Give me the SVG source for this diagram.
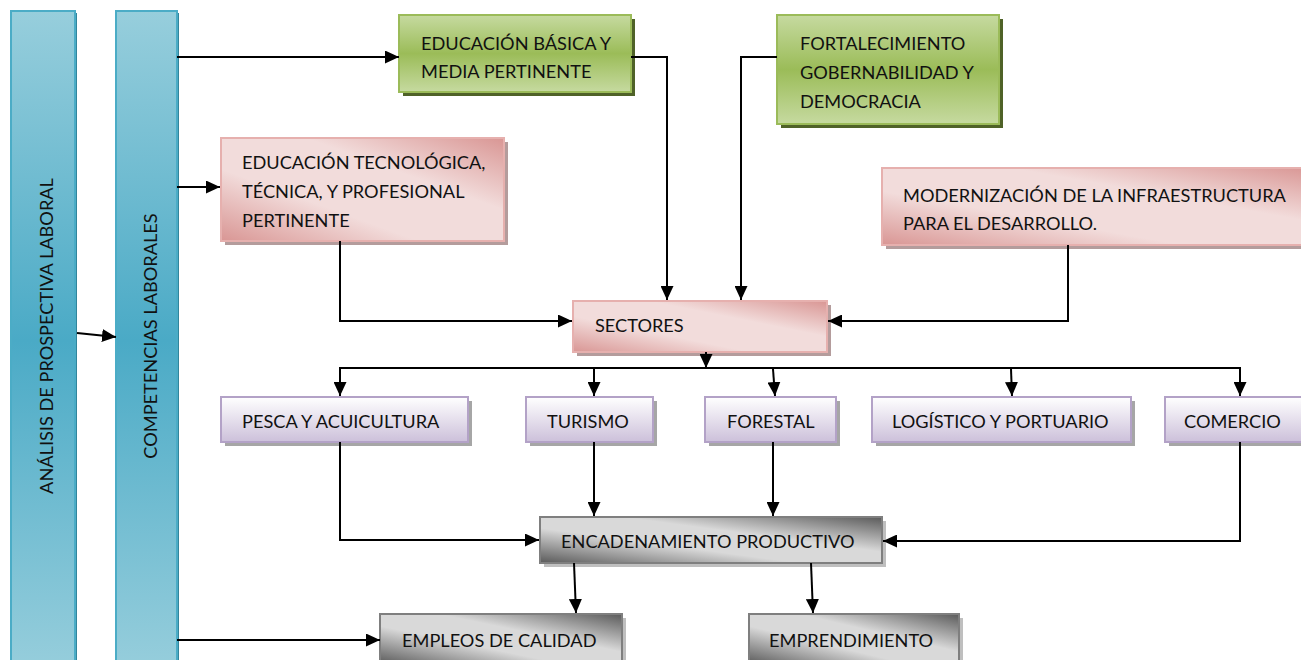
<svg xmlns="http://www.w3.org/2000/svg" width="1301" height="660" viewBox="0 0 1301 660">
<style>
text{font-family:Lato,"Open Sans","Liberation Sans",sans-serif;font-size:18.2px;fill:#111;}
.conn{fill:none;stroke:#000;stroke-width:2;}
.blue{fill:url(#gBlue);stroke:#4bacc6;stroke-width:2;}
.green{fill:url(#gGreen);stroke:#9bbb59;stroke-width:2;}
.pink{fill:url(#gPink);stroke:#e6b0ae;stroke-width:2;}
.lav{fill:url(#gLav);stroke:#b3a2c7;stroke-width:2;}
.gray{fill:url(#gGray);stroke:#7f7f7f;stroke-width:2;}
.shGreen{fill:#4f6228;}
.shPink{fill:#b49c9c;}
.shLav{fill:#a6a6a6;}
.shGray{fill:#bfbfbf;}
.shBlue{fill:#31859c;}
</style>
<defs>
<linearGradient id="gBlue" x1="0" y1="0" x2="0" y2="1">
<stop offset="0" stop-color="#97cedc"/><stop offset="0.5" stop-color="#4aaac6"/><stop offset="1" stop-color="#97cedc"/>
</linearGradient>
<linearGradient id="gGreen" x1="0" y1="0" x2="0" y2="1">
<stop offset="0" stop-color="#c6daa0"/><stop offset="0.5" stop-color="#9bbc58"/><stop offset="1" stop-color="#c6daa0"/>
</linearGradient>
<linearGradient id="gPink" x1="0" y1="1" x2="1" y2="0">
<stop offset="0" stop-color="#d99694"/><stop offset="0.35" stop-color="#f2dcdb"/><stop offset="0.65" stop-color="#f2dcdb"/><stop offset="1" stop-color="#d99694"/>
</linearGradient>
<linearGradient id="gLav" x1="0" y1="0" x2="0" y2="1">
<stop offset="0" stop-color="#ffffff"/><stop offset="1" stop-color="#ccc0da"/>
</linearGradient>
<linearGradient id="gGray" x1="0" y1="1" x2="1" y2="0">
<stop offset="0" stop-color="#5a5a5a"/><stop offset="0.38" stop-color="#d9d9d9"/><stop offset="0.62" stop-color="#d9d9d9"/><stop offset="1" stop-color="#5a5a5a"/>
</linearGradient>
<marker id="arr" viewBox="0 0 14 13" refX="14" refY="6.5" markerWidth="14" markerHeight="13" markerUnits="userSpaceOnUse" orient="auto">
<path d="M0,0 L14,6.5 L0,13 z" fill="#000"/>
</marker>
</defs>

<g id="analisis">
<rect class="shBlue" x="13" y="13" width="64" height="660"/>
<rect class="blue" x="11" y="11" width="64" height="660"/>
<text transform="translate(53,336) rotate(-90)" text-anchor="middle">ANÁLISIS DE PROSPECTIVA LABORAL</text>
</g>
<g id="competencias">
<rect class="shBlue" x="118" y="13" width="61" height="660"/>
<rect class="blue" x="116" y="11" width="61" height="660"/>
<text transform="translate(157,336) rotate(-90)" text-anchor="middle">COMPETENCIAS LABORALES</text>
</g>

<g id="edu-basica">
<rect class="shGreen" x="403" y="19" width="232" height="77"/>
<rect class="green" x="399" y="15" width="232" height="77"/>
<text x="421" y="50">EDUCACIÓN BÁSICA Y</text>
<text x="421" y="78">MEDIA PERTINENTE</text>
</g>
<g id="fortalecimiento">
<rect class="shGreen" x="781" y="19" width="222" height="109"/>
<rect class="green" x="777" y="15" width="222" height="109"/>
<text x="800" y="50">FORTALECIMIENTO</text>
<text x="800" y="79">GOBERNABILIDAD Y</text>
<text x="800" y="108">DEMOCRACIA</text>
</g>
<g id="edu-tecnologica">
<rect class="shPink" x="225" y="142" width="283" height="103"/>
<rect class="pink" x="221" y="138" width="283" height="103"/>
<text x="242" y="169">EDUCACIÓN TECNOLÓGICA,</text>
<text x="242" y="198">TÉCNICA, Y PROFESIONAL</text>
<text x="242" y="227">PERTINENTE</text>
</g>
<g id="modernizacion">
<rect class="shPink" x="886" y="172" width="430" height="77"/>
<rect class="pink" x="882" y="168" width="430" height="77"/>
<text x="903" y="202">MODERNIZACIÓN DE LA INFRAESTRUCTURA</text>
<text x="903" y="230">PARA EL DESARROLLO.</text>
</g>
<g id="sectores">
<rect class="shPink" x="577" y="305" width="254" height="51"/>
<rect class="pink" x="573" y="301" width="254" height="51"/>
<text x="595" y="332">SECTORES</text>
</g>

<g id="pesca">
<rect class="shLav" x="225" y="401" width="247" height="45"/>
<rect class="lav" x="221" y="397" width="247" height="45"/>
<text x="242" y="428">PESCA Y ACUICULTURA</text>
</g>
<g id="turismo">
<rect class="shLav" x="530" y="401" width="127" height="45"/>
<rect class="lav" x="526" y="397" width="127" height="45"/>
<text x="547" y="428">TURISMO</text>
</g>
<g id="forestal">
<rect class="shLav" x="709" y="401" width="131" height="45"/>
<rect class="lav" x="705" y="397" width="131" height="45"/>
<text x="727" y="428">FORESTAL</text>
</g>
<g id="logistico">
<rect class="shLav" x="876" y="401" width="259" height="45"/>
<rect class="lav" x="872" y="397" width="259" height="45"/>
<text x="892" y="428">LOGÍSTICO Y PORTUARIO</text>
</g>
<g id="comercio">
<rect class="shLav" x="1169" y="401" width="150" height="45"/>
<rect class="lav" x="1165" y="397" width="150" height="45"/>
<text x="1184" y="428">COMERCIO</text>
</g>

<g id="encadenamiento">
<rect class="shGray" x="544" y="521" width="342" height="46"/>
<rect class="gray" x="540" y="517" width="342" height="46"/>
<text x="561" y="548">ENCADENAMIENTO PRODUCTIVO</text>
</g>
<g id="empleos">
<rect class="shGray" x="384" y="618" width="242" height="50"/>
<rect class="gray" x="380" y="614" width="242" height="50"/>
<text x="402" y="647">EMPLEOS DE CALIDAD</text>
</g>
<g id="emprendimiento">
<rect class="shGray" x="753" y="618" width="210" height="50"/>
<rect class="gray" x="749" y="614" width="210" height="50"/>
<text x="769" y="647">EMPRENDIMIENTO</text>
</g>

<g id="connectors">
<line class="conn" x1="77" y1="333" x2="116" y2="337" marker-end="url(#arr)"/>
<line class="conn" x1="177" y1="57" x2="399" y2="57" marker-end="url(#arr)"/>
<line class="conn" x1="177" y1="187" x2="220" y2="187" marker-end="url(#arr)"/>
<line class="conn" x1="177" y1="640" x2="380" y2="640" marker-end="url(#arr)"/>
<polyline class="conn" points="631,57 667,57 667,300" marker-end="url(#arr)"/>
<polyline class="conn" points="777,57 741,57 741,300" marker-end="url(#arr)"/>
<polyline class="conn" points="340,241 340,321 572,321" marker-end="url(#arr)"/>
<polyline class="conn" points="1068,245 1068,321 828,321" marker-end="url(#arr)"/>
<line class="conn" x1="706" y1="352" x2="706" y2="368" marker-end="url(#arr)"/>
<line class="conn" x1="339" y1="368" x2="1241" y2="368"/>
<line class="conn" x1="340" y1="368" x2="340" y2="396" marker-end="url(#arr)"/>
<line class="conn" x1="594" y1="368" x2="594" y2="396" marker-end="url(#arr)"/>
<line class="conn" x1="773" y1="369" x2="775" y2="396" marker-end="url(#arr)"/>
<line class="conn" x1="1011" y1="369" x2="1012" y2="396" marker-end="url(#arr)"/>
<line class="conn" x1="1240" y1="368" x2="1240" y2="396" marker-end="url(#arr)"/>
<polyline class="conn" points="340,442 340,540 539,540" marker-end="url(#arr)"/>
<line class="conn" x1="594" y1="442" x2="594" y2="516" marker-end="url(#arr)"/>
<line class="conn" x1="773" y1="442" x2="773" y2="516" marker-end="url(#arr)"/>
<polyline class="conn" points="1240,442 1240,541 883,541" marker-end="url(#arr)"/>
<line class="conn" x1="574" y1="563" x2="576" y2="613" marker-end="url(#arr)"/>
<line class="conn" x1="811" y1="563" x2="813" y2="613" marker-end="url(#arr)"/>
</g>
</svg>
